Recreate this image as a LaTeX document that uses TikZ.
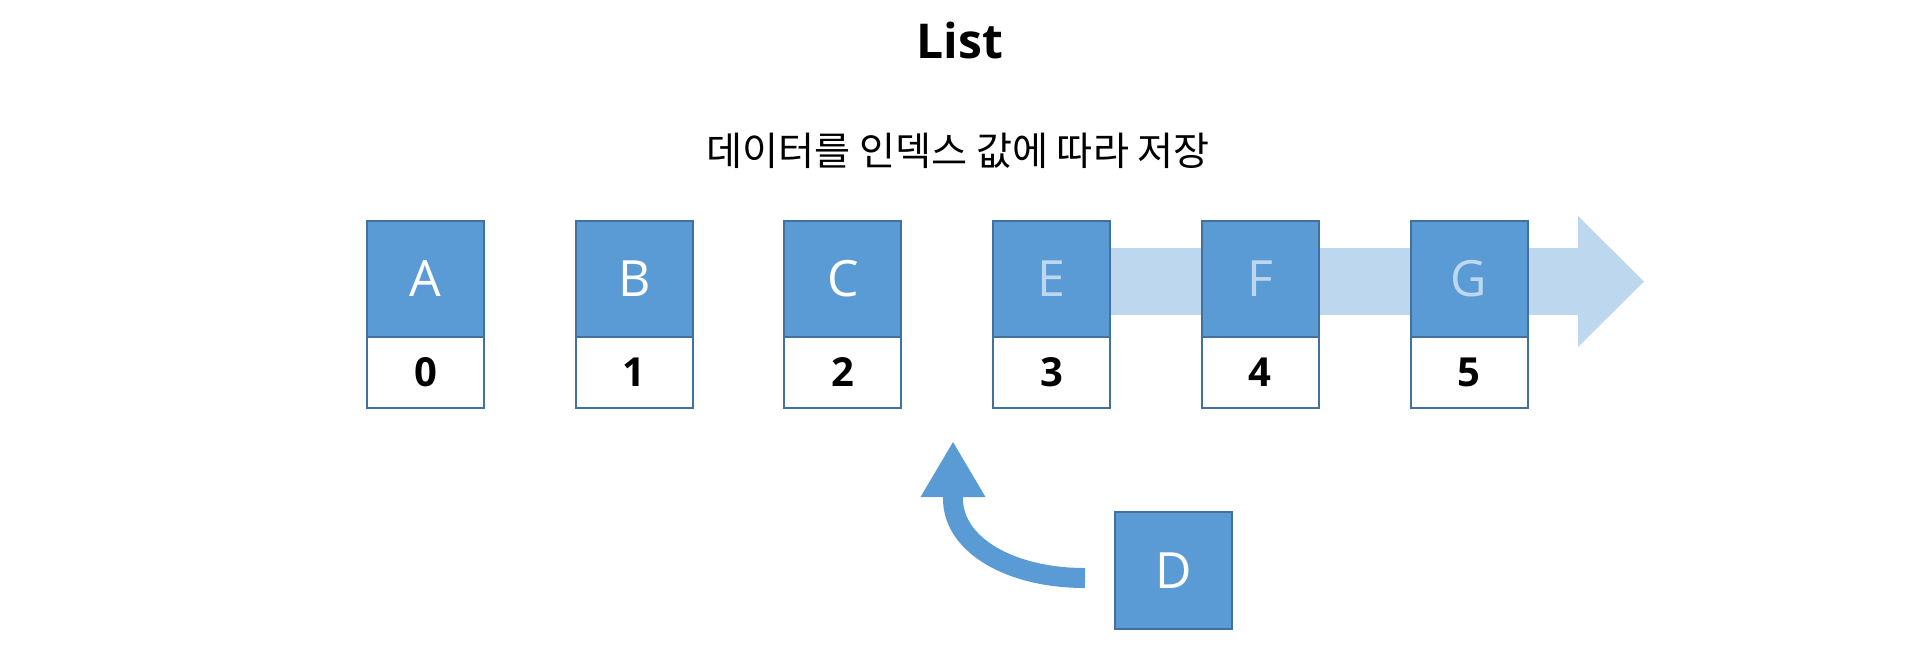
\documentclass[tikz,border=0pt]{standalone}
\usepackage{fontspec}
\setmainfont{Open Sans}
\newfontfamily\krfont{Noto Sans CJK KR}
\usetikzlibrary{positioning, arrows.meta, backgrounds}
\definecolor{boxblue}{HTML}{5B9BD5}
\definecolor{boxline}{HTML}{41719C}
\definecolor{flowblue}{HTML}{BDD7EE}

\begin{document}
\begin{tikzpicture}[x=0.5pt, y=-0.5pt,
    valnode/.style={rectangle, draw=boxline, line width=1pt, fill=boxblue, minimum width=58.5pt, minimum height=58pt, outer sep=0pt, inner sep=0pt, text=white, font=\fontsize{25}{25}\selectfont},
    idxnode/.style={rectangle, draw=boxline, line width=1pt, fill=white, minimum width=58.5pt, minimum height=35.5pt, outer sep=0pt, inner sep=0pt, font=\bfseries\fontsize{20}{20}\selectfont}
]
\useasboundingbox (0,0) rectangle (1916,645);
\node[font=\bfseries\fontsize{24}{24}\selectfont, anchor=base](title) at (960,58){List};
\node[font=\krfont\fontsize{19.6}{19.6}\selectfont](subtitle) at (958,151){데이터를 인덱스 값에 따라 저장};

% list cells
\foreach \lbl/\num/\col [count=\i from 0] in {A/0/white, B/1/white, C/2/white, E/3/flowblue, F/4/flowblue, G/5/flowblue}{
    \node[valnode, text=\col](val\lbl) at (425.5+208.7*\i, 279){\lbl};
    \node[idxnode](idx\num)[below = 0pt of val\lbl]{\num};
}

% shifted part
\coordinate (flowend) at (1644,281.5);
\begin{scope}[on background layer]
\draw[flowblue, line width=33.5pt, -{Triangle[length=33pt, width=65.5pt, line width=0pt]}] (valE.center |- flowend) -- (flowend);
\end{scope}

% inserted element
\node[valnode, minimum height=58.5pt](valD) at (1173.5,570.5){D};
\coordinate (insstart) at ([xshift=-15pt, yshift=-3.75pt]valD.west);
\coordinate (insend) at (953,442);
\draw[boxblue, line width=10pt, -{Triangle[length=27.5pt, width=32.5pt, line width=0pt]}] (insstart) .. controls (1010,578) and (954,545) .. (953,500) -- (insend);
\end{tikzpicture}
\end{document}
